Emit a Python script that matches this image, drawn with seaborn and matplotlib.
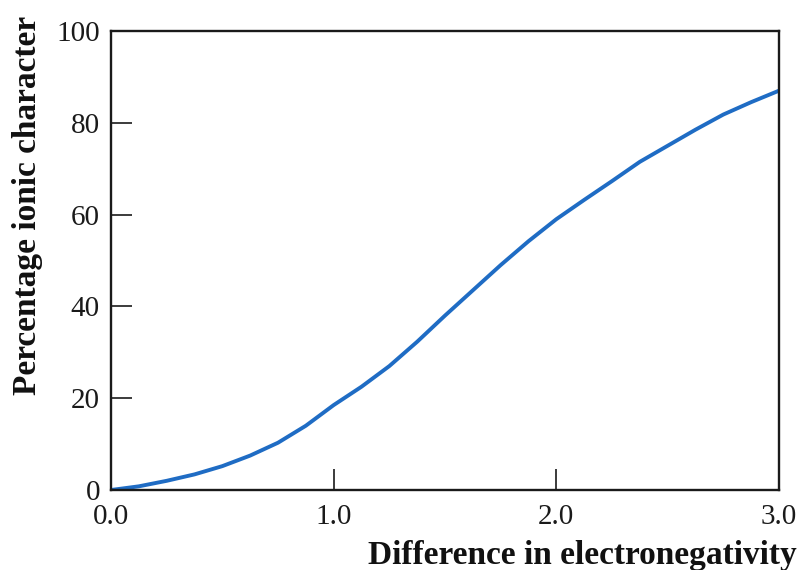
import matplotlib
matplotlib.use("Agg")
import matplotlib.pyplot as plt
import seaborn as sns
import pandas as pd

# Percentage ionic character of a bond vs. electronegativity difference
electronegativity_diff = [0.0, 0.125, 0.25, 0.375, 0.5, 0.625, 0.75, 0.875, 1.0,
                          1.125, 1.25, 1.375, 1.5, 1.625, 1.75, 1.875, 2.0,
                          2.125, 2.25, 2.375, 2.5, 2.625, 2.75, 2.875, 3.0]
ionic_percent = [0.0, 0.8, 2.0, 3.4, 5.2, 7.5, 10.3, 14.0, 18.5,
                 22.5, 27.0, 32.3, 38.0, 43.5, 49.0, 54.2, 59.0,
                 63.2, 67.3, 71.5, 75.0, 78.5, 81.8, 84.5, 87.0]

x_ticks = [0.0, 1.0, 2.0, 3.0]
x_tick_labels = ["0.0", "1.0", "2.0", "3.0"]
y_ticks = [0, 20, 40, 60, 80, 100]
y_tick_labels = ["0", "20", "40", "60", "80", "100"]

df = pd.DataFrame({"diff": electronegativity_diff, "ionic": ionic_percent})

sns.set_style("ticks")
plt.rcParams["font.family"] = ["Liberation Serif", "DejaVu Serif"]
plt.rcParams["lines.solid_joinstyle"] = "round"

fig = plt.figure(figsize=(7.99, 5.70), dpi=100)
ax = fig.add_axes([111 / 799, 1 - 490 / 570, 668 / 799, 459 / 570])

sns.lineplot(data=df, x="diff", y="ionic", ax=ax, color="#1f6cc4",
             linewidth=2.8, estimator=None, sort=True)

ax.set_xlim(0, 3)
ax.set_ylim(0, 100)
ax.set_xticks(x_ticks)
ax.set_xticklabels(x_tick_labels)
ax.set_yticks(y_ticks)
ax.set_yticklabels(y_tick_labels)

for side in ["top", "right", "bottom", "left"]:
    ax.spines[side].set_visible(True)
    ax.spines[side].set_linewidth(1.7)
    ax.spines[side].set_color("#1a1a1a")

ax.tick_params(axis="both", direction="in", length=15, width=1.2,
               color="#1a1a1a", labelsize=21, labelcolor="#1a1a1a")
ax.tick_params(axis="x", pad=10)
ax.tick_params(axis="y", pad=8)

ax.set_xlabel("Difference in electronegativity", fontsize=24,
              fontweight="bold", loc="right", color="#111111")
ax.xaxis.set_label_coords(1.027, -0.108)
ax.set_ylabel("Percentage ionic character", fontsize=24,
              fontweight="bold", color="#111111")
ax.yaxis.set_label_coords(-0.102, 0.619)

fig.savefig("out.png", dpi=100)
